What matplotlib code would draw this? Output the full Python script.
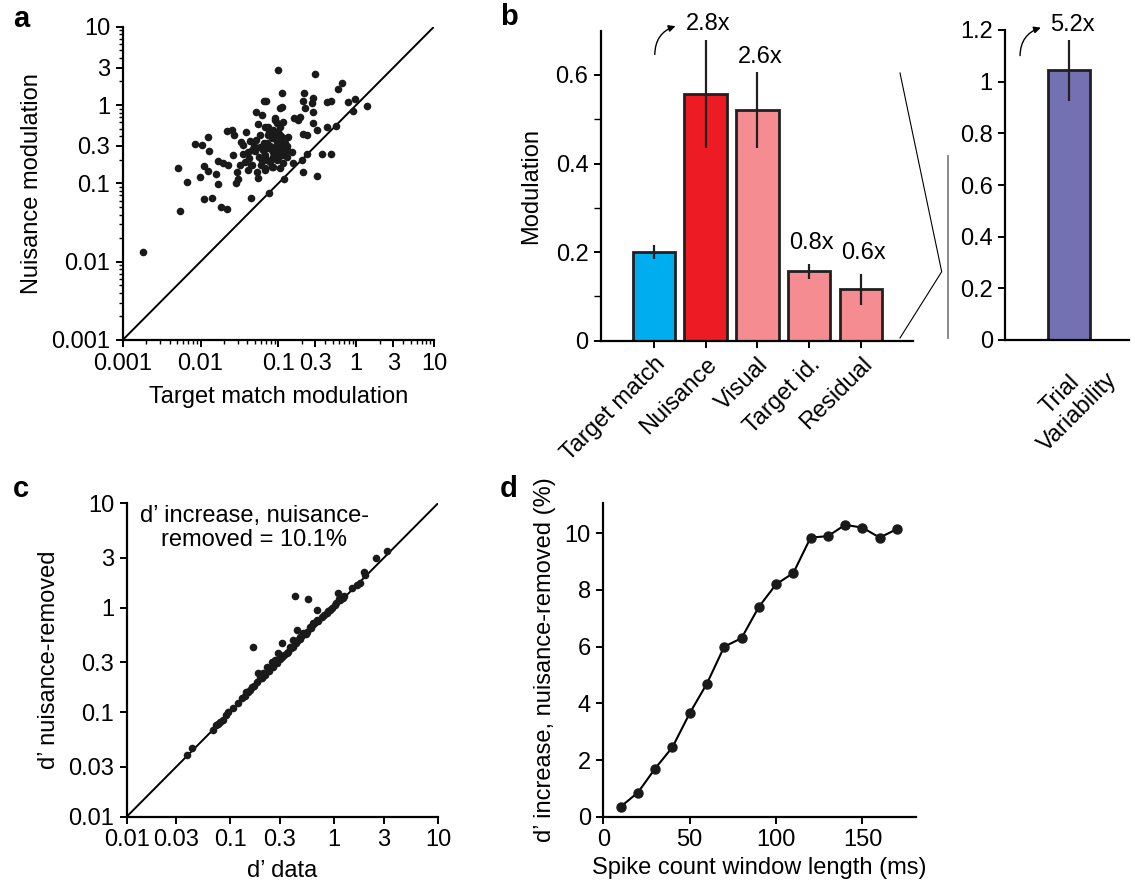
import numpy as np
import matplotlib
matplotlib.use("Agg")
import matplotlib.pyplot as plt
from matplotlib.lines import Line2D
from matplotlib.ticker import NullLocator

plt.rcParams['font.family'] = ['Liberation Sans', 'DejaVu Sans']
plt.rcParams['font.size'] = 17
plt.rcParams['axes.linewidth'] = 1.6
plt.rcParams['xtick.major.width'] = 1.4
plt.rcParams['ytick.major.width'] = 1.4
plt.rcParams['xtick.minor.width'] = 1.0
plt.rcParams['ytick.minor.width'] = 1.0

# ---- panel a: target match vs nuisance modulation (per neuron) ----
a_target = [0.098, 0.110, 0.0653, 0.110, 0.0511, 0.061, 0.0542, 0.0673, 0.0906, 0.105,
            0.0217, 0.0251, 0.0272, 0.038, 0.0124, 0.0085, 0.0104, 0.013, 0.0331, 0.0433,
            0.058, 0.0708, 0.082, 0.0264, 0.0169, 0.0196, 0.0228, 0.0051, 0.0112, 0.0126,
            0.0158, 0.0291, 0.0411, 0.0526, 0.0673, 0.0098, 0.0068, 0.0166, 0.0306, 0.0282,
            0.0542, 0.0111, 0.0139, 0.0445, 0.0183, 0.0217, 0.0054, 0.0759, 0.0673, 0.082,
            0.095, 0.105, 0.0743, 0.0861, 0.058, 0.0454, 0.0372, 0.0321, 0.0463, 0.061,
            0.0355, 0.0411, 0.100, 0.0018, 0.296, 0.65, 0.589, 0.216, 0.281, 0.268,
            0.209, 0.417, 0.474, 0.778, 0.966, 1.365, 0.918, 0.105, 0.22, 0.281,
            0.16, 0.181, 0.19, 0.281, 0.31, 0.417, 0.544, 0.0906, 0.095, 0.116,
            0.209, 0.231, 0.0743, 0.100, 0.11, 0.134, 0.122, 0.105, 0.128, 0.148,
            0.11, 0.082, 0.0708, 0.0861, 0.078, 0.100, 0.116, 0.156, 0.0676, 0.082,
            0.105, 0.199, 0.231, 0.36, 0.474, 0.209, 0.31, 0.119, 0.069,
            0.035, 0.042, 0.048, 0.052, 0.057, 0.063, 0.066, 0.072, 0.077, 0.085,
            0.09, 0.095, 0.10, 0.11, 0.12, 0.13, 0.09, 0.075, 0.06, 0.045,
            0.13, 0.115, 0.085, 0.05]
a_nuisance = [2.82, 1.41, 1.135, 0.953, 0.805, 0.745, 0.566, 0.528, 0.644, 0.528,
              0.466, 0.48, 0.414, 0.457, 0.394, 0.315, 0.309, 0.259, 0.34, 0.347,
              0.294, 0.324, 0.394, 0.23, 0.193, 0.18, 0.171, 0.155, 0.168, 0.144,
              0.13, 0.141, 0.148, 0.138, 0.148, 0.122, 0.103, 0.097, 0.114, 0.100,
              0.116, 0.063, 0.0656, 0.0644, 0.0504, 0.047, 0.0448, 0.0745, 0.23, 0.267,
              0.34, 0.414, 0.414, 0.48, 0.414, 0.267, 0.189, 0.171, 0.171, 0.193,
              0.309, 0.254, 0.254, 0.0134, 2.49, 1.93, 1.585, 1.41, 1.216, 1.05,
              1.125, 1.104, 1.125, 1.104, 1.18, 0.982, 0.838, 0.925, 0.925, 0.805,
              0.676, 0.646, 0.71, 0.583, 0.48, 0.528, 0.544, 0.676, 0.583, 0.612,
              0.423, 0.414, 0.528, 0.457, 0.394, 0.394, 0.324, 0.294, 0.267, 0.254,
              0.23, 0.375, 0.28, 0.254, 0.189, 0.208, 0.18, 0.18, 0.155, 0.163,
              0.158, 0.199, 0.234, 0.234, 0.237, 0.138, 0.125, 0.114, 1.14,
              0.24, 0.21, 0.30, 0.36, 0.22, 0.27, 0.33, 0.20, 0.30, 0.22,
              0.29, 0.20, 0.36, 0.27, 0.25, 0.22, 0.39, 0.45, 0.17, 0.17,
              0.30, 0.32, 0.16, 0.26]

# ---- panel b: modulation per component ----
b_labels = ["Target match", "Nuisance", "Visual", "Target id.", "Residual"]
b_values = [0.200, 0.557, 0.522, 0.157, 0.116]
b_err_lo = [0.185, 0.435, 0.435, 0.140, 0.080]
b_err_hi = [0.215, 0.678, 0.607, 0.173, 0.150]
b_colors = ["#00AEEF", "#ED1C24", "#F58C91", "#F58C91", "#F58C91"]
b_ratio = ["", "2.8x", "2.6x", "0.8x", "0.6x"]
b_ratio_y = [0, 0.715, 0.640, 0.220, 0.198]

tv_label = "Trial\nVariability"
tv_value = 1.045
tv_err = (0.925, 1.16)
tv_ratio = "5.2x"

# ---- panel c: d' data vs d' nuisance-removed ----
c_data = [0.0379, 0.0428, 0.0684, 0.0733, 0.0787, 0.0853, 0.0953, 0.106, 0.119, 0.128,
          0.138, 0.149, 0.16, 0.179, 0.193, 0.207, 0.223, 0.183, 0.166, 0.312,
          0.289, 0.249, 0.269, 0.312, 0.361, 0.403, 0.451, 0.435, 0.504, 0.419,
          0.555, 0.678, 0.678, 0.757, 0.845, 0.91, 1.016, 1.094, 1.135, 1.22,
          1.47, 1.64, 1.77, 1.94, 1.98, 2.51, 3.25, 0.375, 0.403, 0.467,
          0.543, 0.585, 0.63, 0.14, 0.155, 0.17, 0.2, 0.215, 0.235, 0.255,
          0.28, 0.3, 0.33, 0.35, 0.38, 0.43, 0.47, 0.53, 0.6, 0.7,
          0.8, 0.88, 0.95, 1.05, 1.1, 1.25, 0.075, 0.09]
c_removed = [0.039, 0.0452, 0.0676, 0.0755, 0.0813, 0.0843, 0.101, 0.109, 0.122, 0.136,
             0.143, 0.157, 0.175, 0.196, 0.211, 0.236, 0.273, 0.236, 0.424, 0.464,
             0.366, 0.305, 0.316, 0.34, 0.38, 0.424, 0.491, 0.612, 0.57, 1.30,
             1.21, 0.953, 0.764, 0.82, 0.885, 0.953, 1.06, 1.37, 1.186, 1.23,
             1.53, 1.65, 1.74, 2.21, 2.06, 2.97, 3.52, 0.424, 0.49, 0.528,
             0.59, 0.659, 0.71, 0.155, 0.165, 0.18, 0.215, 0.225, 0.25, 0.27,
             0.295, 0.325, 0.35, 0.37, 0.41, 0.46, 0.5, 0.56, 0.64, 0.75,
             0.86, 0.93, 1.0, 1.12, 1.2, 1.3, 0.078, 0.094]
c_note = "d\u2019 increase, nuisance-\nremoved = 10.1%"

# ---- panel d: d' increase vs window length ----
d_window = [10, 20, 30, 40, 50, 60, 70, 80, 90, 100, 110, 120, 130, 140, 150, 160, 170]
d_increase = [0.35, 0.85, 1.7, 2.45, 3.65, 4.7, 6.0, 6.3, 7.4, 8.2, 8.6, 9.85, 9.9,
              10.3, 10.2, 9.85, 10.15]

W, H = 1135, 884
fig = plt.figure(figsize=(W / 100, H / 100), dpi=100)


def px_axes(l, t, r, b):
    return fig.add_axes([l / W, 1 - b / H, (r - l) / W, (b - t) / H])


def clean(ax):
    ax.spines[['top', 'right']].set_visible(False)
    ax.tick_params(which='major', direction='out', length=5, pad=4)
    ax.tick_params(which='minor', direction='out', length=3)


# panel a
ax = px_axes(122.7, 26.7, 434, 340)
clean(ax)
ax.set_xscale('log'); ax.set_yscale('log')
ax.set_xlim(0.001, 10); ax.set_ylim(0.001, 10)
ax.plot([0.001, 10], [0.001, 10], color='k', lw=1.4)
ax.scatter(a_target, a_nuisance, s=30, color='#1a1a1a', lw=0, zorder=3, clip_on=False)
lt = [0.001, 0.01, 0.1, 0.3, 1, 3, 10]
ll = ["0.001", "0.01", "0.1", "0.3", "1", "3", "10"]
ax.set_xticks(lt, ll); ax.set_yticks(lt, ll)
ax.set_xlabel("Target match modulation", labelpad=8)
ax.set_ylabel("Nuisance modulation", labelpad=6)

# panel b (left)
ax = px_axes(601, 30.7, 912.7, 340.7)
clean(ax)
xs = np.arange(len(b_labels))
ax.bar(xs, b_values, width=0.82, color=b_colors, edgecolor='#231f20', lw=2, zorder=2)
ax.vlines(xs, b_err_lo, b_err_hi, color='#231f20', lw=1.6, zorder=3)
for x, t, yv in zip(xs, b_ratio, b_ratio_y):
    if t:
        ax.text(x + 0.05, yv, t, ha='center', va='center', clip_on=False)
ax.set_xlim(-1.02, 5.0); ax.set_ylim(0, 0.7)
ax.set_yticks([0, 0.2, 0.4, 0.6], ["0", "0.2", "0.4", "0.6"])
ax.set_yticks([0.1, 0.3, 0.5], minor=True)
ax.tick_params(axis='y', which='minor', length=5)
ax.set_xticks(xs, b_labels, rotation=45, ha='right', va='top', rotation_mode='anchor')
ax.set_ylabel("Modulation", labelpad=10)
ax.annotate("", xy=(0.47, 0.712), xytext=(0.02, 0.64),
            arrowprops=dict(arrowstyle='-|>', color='k', lw=1, mutation_scale=10,
                            connectionstyle='arc3,rad=-0.4'), annotation_clip=False)

# panel b (right)
ax = px_axes(1005.3, 30, 1129, 340)
clean(ax)
ax.bar([0], [tv_value], width=0.82, color='#7471B3', edgecolor='#231f20', lw=2, zorder=2)
ax.vlines([0], [tv_err[0]], [tv_err[1]], color='#231f20', lw=1.6, zorder=3)
ax.text(0.06, 1.219, tv_ratio, ha='center', va='center', clip_on=False)
ax.set_xlim(-1.25, 1.18); ax.set_ylim(0, 1.2)
ax.set_yticks([0, 0.2, 0.4, 0.6, 0.8, 1.0, 1.2],
              ["0", "0.2", "0.4", "0.6", "0.8", "1", "1.2"])
ax.set_xticks([0], [tv_label], rotation=45, ha='center', va='top', multialignment='center')
ax.tick_params(axis='x', length=0, pad=8)
ax.annotate("", xy=(-0.5, 1.212), xytext=(-0.96, 1.09),
            arrowprops=dict(arrowstyle='-|>', color='k', lw=1, mutation_scale=10,
                            connectionstyle='arc3,rad=-0.4'), annotation_clip=False)

# zoom connector lines between the two bar panels
fig.add_artist(Line2D([900 / W, 941.7 / W, 900 / W],
                      [1 - 73 / H, 1 - 271.7 / H, 1 - 338 / H], color='k', lw=0.8))
fig.add_artist(Line2D([947.7 / W, 947.7 / W], [1 - 156 / H, 1 - 338 / H],
                      color='#808080', lw=1.3))

# panel c
ax = px_axes(126.7, 503.3, 438, 816.7)
clean(ax)
ax.set_xscale('log'); ax.set_yscale('log')
ax.set_xlim(0.01, 10); ax.set_ylim(0.01, 10)
ax.plot([0.01, 10], [0.01, 10], color='k', lw=1.4)
ax.scatter(c_data, c_removed, s=30, color='#1a1a1a', lw=0, zorder=3)
lt = [0.01, 0.03, 0.1, 0.3, 1, 3, 10]
ll = ["0.01", "0.03", "0.1", "0.3", "1", "3", "10"]
ax.set_xticks(lt, ll); ax.set_yticks(lt, ll)
ax.xaxis.set_minor_locator(NullLocator()); ax.yaxis.set_minor_locator(NullLocator())
ax.text(0.41, 0.995, c_note, transform=ax.transAxes, ha='center', va='top',
        multialignment='center', linespacing=1.15)
ax.set_xlabel("d\u2019 data", labelpad=6)
ax.set_ylabel("d\u2019 nuisance-removed", labelpad=6)

# panel d
ax = px_axes(603.3, 503, 916, 816.7)
clean(ax)
ax.plot(d_window, d_increase, color='k', lw=1.5, marker='o', ms=6.5, mfc='#1a1a1a',
        mec='#1a1a1a')
ax.set_xlim(0, 181); ax.set_ylim(0, 11.07)
ax.set_xticks([0, 50, 100, 150]); ax.set_yticks([0, 2, 4, 6, 8, 10])
ax.set_xlabel("Spike count window length (ms)", labelpad=4)
ax.set_ylabel("d\u2019 increase, nuisance-removed (%)", labelpad=6)

# panel letters
for t, x, y in [("a", 13, 27), ("b", 500, 25), ("c", 13, 497), ("d", 500, 497)]:
    fig.text(x / W, 1 - y / H, t, fontsize=21, fontweight='bold', va='baseline', ha='left')

fig.savefig("out.png", dpi=100)
